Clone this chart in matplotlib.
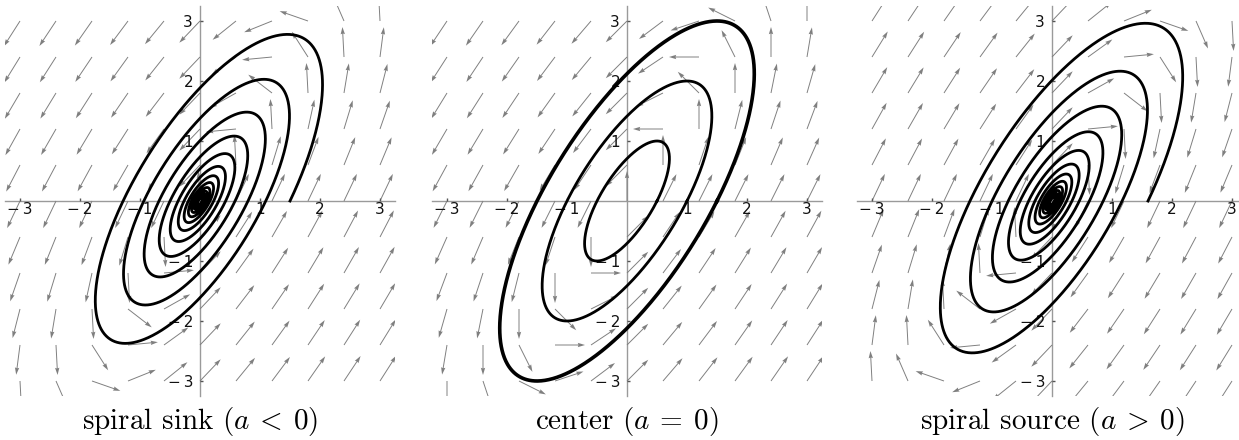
import numpy as np
import matplotlib
matplotlib.use("Agg")
import matplotlib.pyplot as plt

# Linear system  x' = M x + a x,  with M = [[1, -1], [2, -1]]  (M @ M = -I)
M = np.array([[1.0, -1.0],
              [2.0, -1.0]])
a_sink = -0.05
a_source = 0.05

# Orientation of the flow drawn in each panel (+1 forward M, -1 reversed M)
flow_sign = {"sink": 1.0, "center": 1.0, "source": -1.0}
a_values = {"sink": a_sink, "center": 0.0, "source": a_source}

# Starting points of the plotted trajectories (on the positive x-axis)
sink_start = [1.5, 0.0]
source_end = [1.6, 0.0]
center_starts = [0.5, 1.0, 1.5]

tick_values = [-3, -2, -1, 1, 2, 3]
tick_labels = ["\u2212\u20093", "\u2212\u20092", "\u2212\u20091", "1", "2", "3"]

captions = [r"spiral sink $(a\:<\:0)$", r"center $(a\:=\:0)$", r"spiral source $(a\:>\:0)$"]
panel_keys = ["sink", "center", "source"]

ARROW_LEN = 0.5
GRID_STEP = 0.6
LIM = 3.25

plt.rcParams["mathtext.fontset"] = "cm"

W, H = 1239, 440
fig = plt.figure(figsize=(W / 100, H / 100), dpi=100)

centers_px = [200, 627, 1052]
unit_px = 60.0
ax_w = 2 * LIM * unit_px
ax_h = 2 * LIM * unit_px
origin_y_px = 201  # from top


def propagate(x0, a, t, sign=1.0):
    """Exact solution of x' = (sign*M + a I) x using exp(tM) = cos t I + sin t M."""
    x0 = np.asarray(x0, float)
    Mx = sign * (M @ x0)
    c, s = np.cos(t), np.sin(t)
    pts = np.outer(c, x0) + np.outer(s, Mx)
    return pts * np.exp(a * t)[:, None]


grid = np.arange(-3, 3 + 1e-9, GRID_STEP)
GX, GY = np.meshgrid(grid, grid)

for i, key in enumerate(panel_keys):
    left = (centers_px[i] - LIM * unit_px) / W
    bottom = (H - (origin_y_px + LIM * unit_px)) / H
    ax = fig.add_axes([left, bottom, ax_w / W, ax_h / H])
    ax.set_xlim(-LIM, LIM)
    ax.set_ylim(-LIM, LIM)
    ax.set_aspect("equal")

    # direction field: arrows of fixed length, tail at the grid point
    sgn = flow_sign[key]
    av = a_values[key]
    U = sgn * (M[0, 0] * GX + M[0, 1] * GY) + av * GX
    V = sgn * (M[1, 0] * GX + M[1, 1] * GY) + av * GY
    N = np.hypot(U, V)
    N[N == 0] = np.nan
    ax.quiver(GX, GY, U / N * ARROW_LEN, V / N * ARROW_LEN,
              angles="xy", scale_units="xy", scale=1, units="xy",
              width=0.016, headwidth=4.5, headlength=7.5, headaxislength=6.8,
              color="#7f7f7f", zorder=1, pivot="tail")

    # trajectories
    if key == "sink":
        t = np.linspace(0, 80, 8000)
        p = propagate(sink_start, a_sink, t)
        ax.plot(p[:, 0], p[:, 1], color="black", lw=2.0, zorder=3)
    elif key == "source":
        # trajectory of x' = -M x + a x ending at source_end, traced backwards
        t = np.linspace(0, 80, 8000)
        p = propagate(source_end, -a_source, t)
        ax.plot(p[:, 0], p[:, 1], color="black", lw=2.0, zorder=3)
    else:
        t = np.linspace(0, 2 * np.pi, 800)
        for k, x0 in enumerate(center_starts):
            p = propagate([x0, 0.0], 0.0, t)
            ax.plot(p[:, 0], p[:, 1], color="black",
                    lw=2.0 if k < 2 else 2.6, zorder=3)

    # axes through the origin
    for side in ("top", "right"):
        ax.spines[side].set_visible(False)
    ax.spines["left"].set_position("zero")
    ax.spines["bottom"].set_position("zero")
    for side in ("left", "bottom"):
        ax.spines[side].set_color("#9a9a9a")
        ax.spines[side].set_linewidth(1.0)
        ax.spines[side].set_zorder(0.5)
    ax.set_xticks(tick_values)
    ax.set_xticklabels(tick_labels)
    ax.set_yticks(tick_values)
    ax.set_yticklabels(tick_labels)
    ax.tick_params(axis="x", direction="in", length=2.5, width=1,
                   color="#555555", labelsize=11, labelcolor="#111111", pad=1)
    ax.tick_params(axis="y", direction="in", length=2.5, width=1,
                   color="#555555", labelsize=11, labelcolor="#111111", pad=5)
    ax.patch.set_alpha(0)

    fig.text(centers_px[i] / W, 1 - 421 / H, captions[i], ha="center", va="center",
             fontsize=21, family="cmr10")

fig.savefig("out.png", dpi=100)
